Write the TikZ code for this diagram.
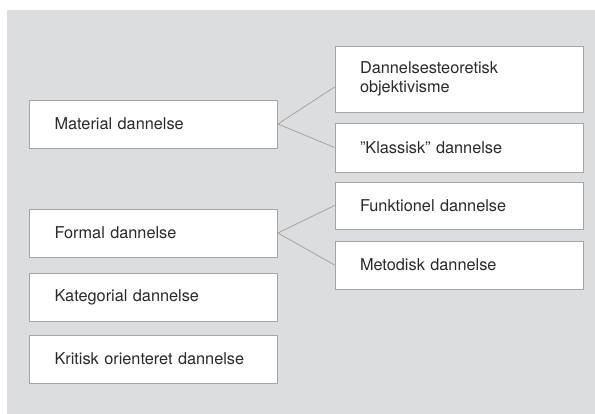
\documentclass[tikz,border=0pt]{standalone}
\usepackage{fontspec}
\setmainfont{TeX Gyre Heros}
\usetikzlibrary{calc}
\definecolor{bggray}{HTML}{DCDDDF}
\definecolor{edgegray}{HTML}{A4A4A4}
\definecolor{txtgray}{HTML}{2A2A2A}
\tikzset{
  box/.style={draw=edgegray, line width=0.9pt, fill=white, rectangle,
    text width=198pt, inner xsep=25pt, inner ysep=0pt, align=left,
    text=txtgray, font=\fontsize{16.3}{19.2}\selectfont},
  link/.style={draw=edgegray, line width=0.8pt}
}
\begin{document}
\begin{tikzpicture}[x=1pt,y=1pt]
\useasboundingbox (0,0) rectangle (595,-414);
\fill[bggray] (7,-10) rectangle (595,-414);
\node[box, minimum height=48pt] (mat) at (153.5,-124) {Material dannelse};
\node[box, minimum height=48pt] (form) at (153.5,-233) {Formal dannelse};
\node[box, minimum height=48pt] (kat) at (153.5,-297) {Kategorial dannelse};
\node[box, minimum height=48pt] (krit) at (153.5,-359) {Kritisk orienteret dannelse};
\node[box, minimum height=66pt] (dto) at (459,-79) {Dannelsesteoretisk\\objektivisme};
\node[box, minimum height=49pt] (klas) at (459,-147.5) {”Klassisk” dannelse};
\node[box, minimum height=47pt] (funk) at (459,-205.5) {Funktionel dannelse};
\node[box, minimum height=48pt] (meto) at (459,-265) {Metodisk dannelse};
\coordinate (dtoin) at ($(dto.west)+(0,-8)$);
\draw[link] (dtoin) -- (mat.east) -- (klas.west);
\draw[link] (funk.west) -- (form.east) -- (meto.west);
\end{tikzpicture}
\end{document}
